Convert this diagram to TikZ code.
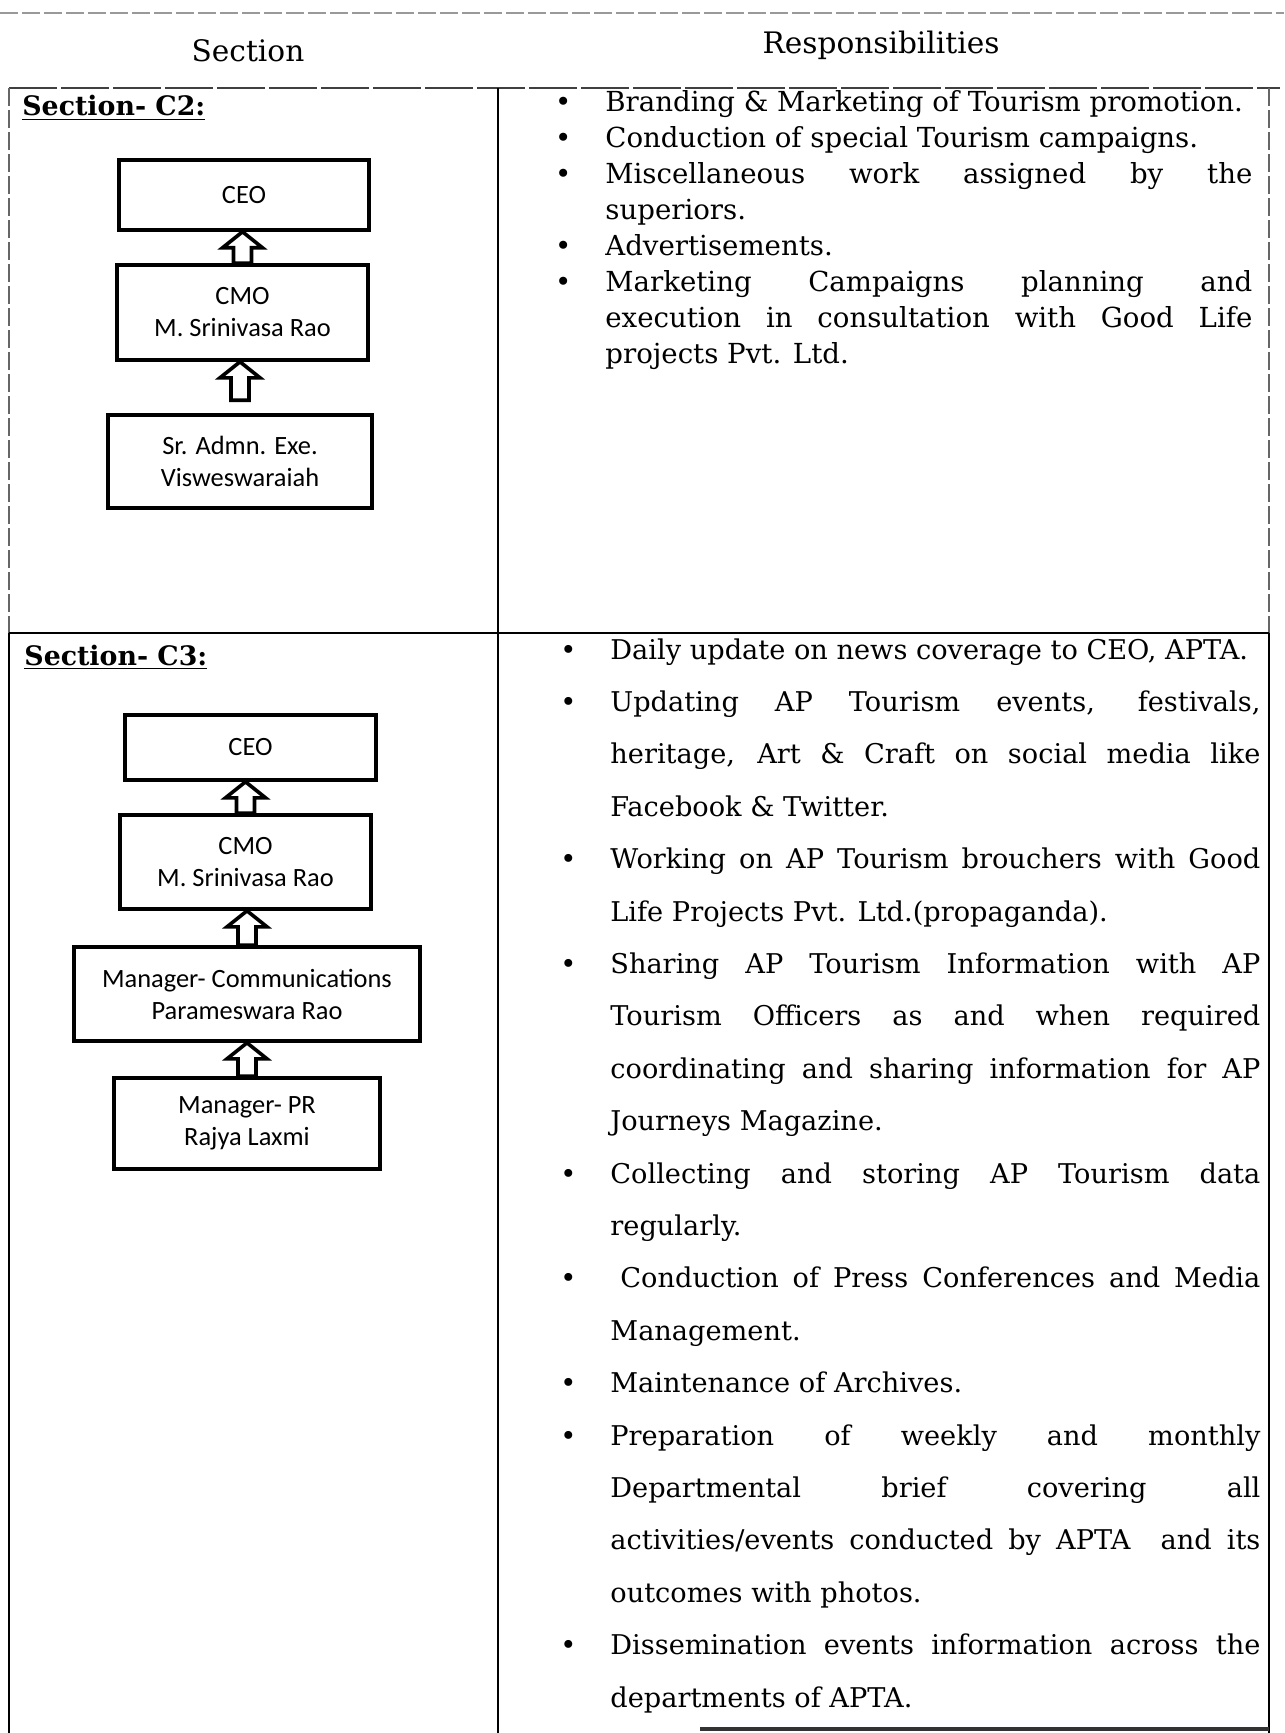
\documentclass[tikz,border=0pt]{standalone}
\usepackage{fontspec}
\setmainfont{DejaVu Serif}
\newfontfamily\chartfont{Carlito}
\usetikzlibrary{calc}

\hyphenpenalty=10000
\exhyphenpenalty=10000

% bullet hung in the left margin of a duty line
\newcommand{\dutydot}{\noindent\llap{\textbullet\hspace{17pt}}}

\tikzset{
  orgbox/.style={draw, line width=1.8pt, align=center, inner sep=0pt,
    font=\chartfont\fontsize{13.2}{16}\selectfont},
  uplink/.style={draw, fill=white, line width=1.8pt, line join=miter, to path={
    let \p1=(\tikztostart.north), \p2=(\tikztotarget.south) in
    (\x1-4.5pt,\y1+#1) -- (\x1-4.5pt,\y2-8pt) -- (\x1-10pt,\y2-8pt) -- (\x1,\y2)
    -- (\x1+10pt,\y2-8pt) -- (\x1+4.5pt,\y2-8pt) -- (\x1+4.5pt,\y1+#1) -- cycle}},
  uplink/.default=0pt
}

\begin{document}
\begin{tikzpicture}[x=0.5pt, y=-0.5pt,
  rule/.style={line width=0.9pt},
  faintrule/.style={line width=0.7pt, black!60, dash pattern=on 9pt off 2pt},
  head/.style={font=\fontsize{14.8}{18}\selectfont, inner sep=0pt},
  seclabel/.style={font=\bfseries\fontsize{13.4}{16}\selectfont, inner sep=0pt},
  duty/.style={align=justify, inner sep=0pt}]

\fill[white] (0,0) rectangle (1284,1733);
\useasboundingbox (0,0) rectangle (1284,1733);

% table rules
\draw[faintrule, black!40] (0,13) -- (1284,13);
\draw[faintrule, black!75, dash pattern=on 24pt off 2pt] (9,88) -- (1280,88);
\draw[faintrule] (9,88) -- (9,633);
\draw[faintrule] (1269,88) -- (1269,633);
\draw[rule] (498,88) -- (498,1733);
\draw[rule] (9,633) -- (1269,633);
\draw[rule] (9,633) -- (9,1733);
\draw[rule] (1269,633) -- (1269,1733);
\draw[line width=1.6pt, black!80] (700,1729) -- (1269,1729);

% header
\node[head, anchor=base] (hsection) at (248,62) {Section};
\node[head, anchor=base] (hduties) at (881,54) {Responsibilities};

% Section C2
\node[seclabel, anchor=base west] (labc2) at (22,116) {\underline{Section- C2:}};
\node[orgbox, minimum width=125pt, minimum height=35pt] (ceotwo) at (244,195) {CEO};
\node[orgbox, minimum width=125.5pt, minimum height=47.5pt] (cmotwo) at (242.5,312.5) {CMO\\M. Srinivasa Rao};
\node[orgbox, minimum width=132pt, minimum height=46.5pt] (exetwo) at (240,461.5) {Sr. Admn. Exe.\\Visweswaraiah};
\draw[uplink] (cmotwo) to (ceotwo);
\draw[uplink=6.5pt] (exetwo) to (cmotwo);

\node[duty, text width=323.5pt, font=\fontsize{13.8}{18}\selectfont, anchor=base west] (dutiestwo) at (605,112) {%
\dutydot Branding \& Marketing of Tourism promotion.\par
\dutydot Conduction of special Tourism campaigns.\par
\dutydot Miscellaneous work assigned by the\linebreak superiors.\par
\dutydot Advertisements.\par
\dutydot Marketing Campaigns planning and\linebreak execution in consultation with Good Life\linebreak projects Pvt. Ltd.};

% Section C3
\node[seclabel, anchor=base west] (labc3) at (24,665) {\underline{Section- C3:}};
\node[orgbox, minimum width=125.5pt, minimum height=32.5pt] (ceothree) at (250.5,747.5) {CEO};
\node[orgbox, minimum width=125.5pt, minimum height=47pt] (cmothree) at (245.5,862) {CMO\\M. Srinivasa Rao};
\node[orgbox, minimum width=173pt, minimum height=47pt] (comthree) at (247,994) {Manager- Communications\\Parameswara Rao};
\node[orgbox, minimum width=133pt, minimum height=45.5pt] (prthree) at (247,1123.5) {Manager- PR\\Rajya Laxmi};
\draw[uplink] (cmothree) to (ceothree);
\draw[uplink] (comthree) to (cmothree);
\draw[uplink] (prthree) to (comthree);

\node[duty, text width=325pt, font=\fontsize{13.6}{26.2}\selectfont, anchor=base west] (dutiesthree) at (610,659) {%
\dutydot Daily update on news coverage to CEO, APTA.\par
\dutydot Updating AP Tourism events, festivals,\linebreak heritage, Art \& Craft on social media like\linebreak Facebook \& Twitter.\par
\dutydot Working on AP Tourism brouchers with Good\linebreak Life Projects Pvt. Ltd.(propaganda).\par
\dutydot Sharing AP Tourism Information with AP\linebreak Tourism Officers as and when required\linebreak coordinating and sharing information for AP\linebreak Journeys Magazine.\par
\dutydot Collecting and storing AP Tourism data\linebreak regularly.\par
\dutydot\hspace{5pt}Conduction of Press Conferences and Media\linebreak Management.\par
\dutydot Maintenance of Archives.\par
\dutydot Preparation of weekly and monthly\linebreak Departmental brief covering all\linebreak activities/events conducted by APTA\ \ and its\linebreak outcomes with photos.\par
\dutydot Dissemination events information across the\linebreak departments of APTA.};

\end{tikzpicture}
\end{document}
